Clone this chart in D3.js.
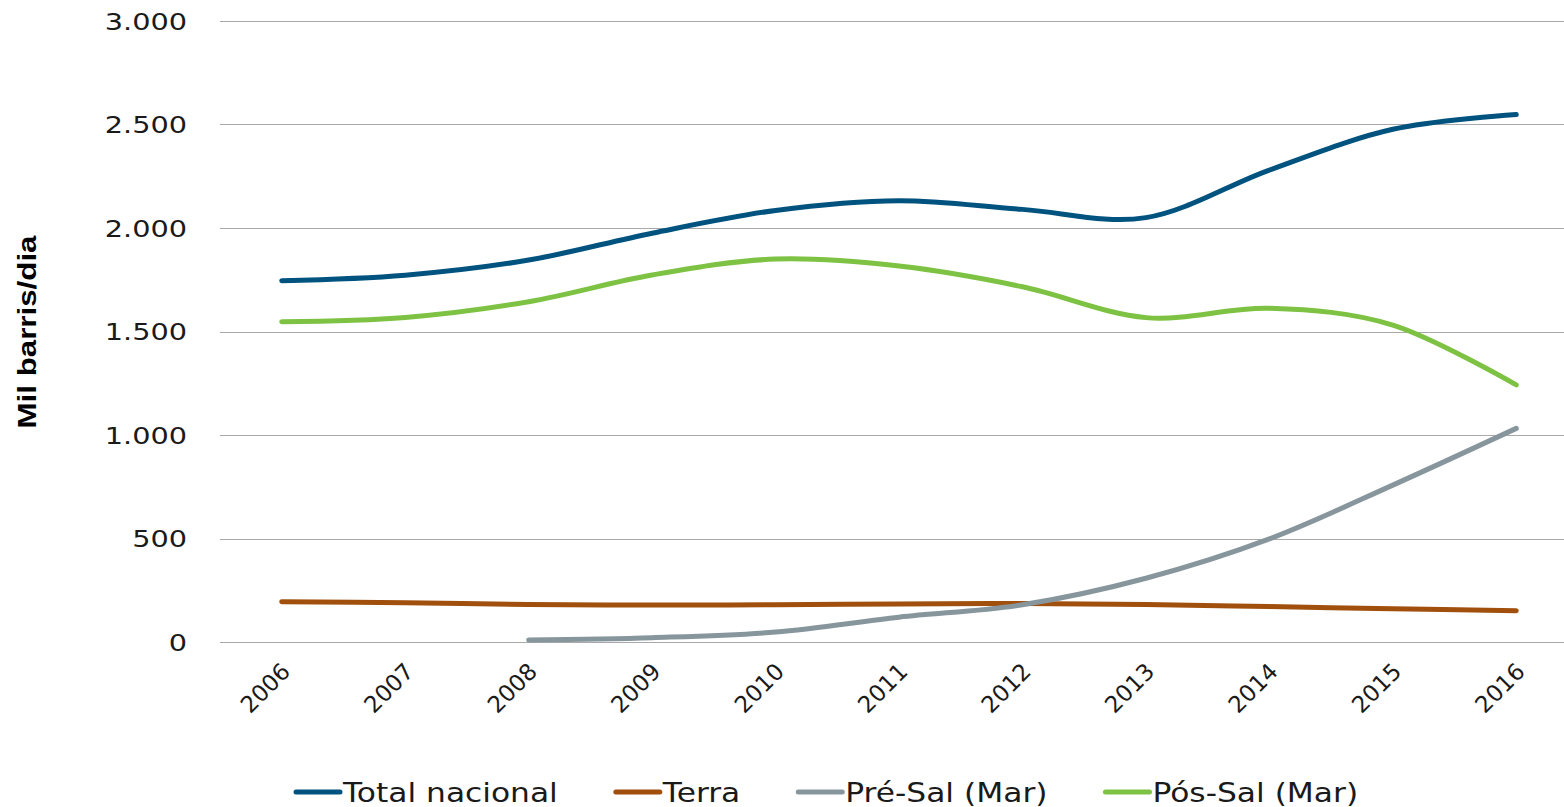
<!DOCTYPE html>
<html>
<head>
<meta charset="utf-8">
<script src="https://cdn.jsdelivr.net/npm/d3@7"></script>
<style>
  html, body { margin: 0; padding: 0; background: #ffffff; }
  svg { display: block; }
</style>
</head>
<body>
<svg id="chart" width="1564" height="807"></svg>
<script>
// Produção de petróleo no Brasil, mil barris/dia
const years = ["2006", "2007", "2008", "2009", "2010", "2011", "2012", "2013", "2014", "2015", "2016"];
const totalNacional = [1745, 1772, 1845, 1975, 2085, 2132, 2090, 2050, 2280, 2477, 2548];
const terra = [195, 190, 181, 179, 180, 184, 186, 181, 171, 161, 151];
const preSal = [null, null, 10, 21, 48, 120, 180, 308, 498, 758, 1032];
const posSal = [1547, 1568, 1644, 1773, 1850, 1816, 1716, 1567, 1612, 1531, 1242];
const yTicks = [0, 500, 1000, 1500, 2000, 2500, 3000];
const seriesNames = ["Total nacional", "Terra", "Pré-Sal (Mar)", "Pós-Sal (Mar)"];
const seriesColors = ["#00527f", "#a04f0c", "#87969c", "#7dc242"];

const series = [totalNacional, terra, preSal, posSal].map((values, i) => ({
  name: seriesNames[i],
  color: seriesColors[i],
  points: years.map((y, j) => ({ year: y, value: values[j] }))
}));

const svg = d3.select("#chart");
const plot = { left: 220, right: 1578, top: 21, bottom: 642 };

const x = d3.scaleBand().domain(years).range([plot.left, plot.right]).padding(0);
const y = d3.scaleLinear().domain([0, 3000]).range([plot.bottom, plot.top]);
const cx = d => x(d) + x.bandwidth() / 2;

const font = "'DejaVu Sans', Verdana, sans-serif";

// horizontal gridlines
svg.append("g")
  .selectAll("line")
  .data(yTicks)
  .join("line")
  .attr("x1", plot.left)
  .attr("x2", plot.right)
  .attr("y1", d => Math.round(y(d)) + 0.5)
  .attr("y2", d => Math.round(y(d)) + 0.5)
  .attr("stroke", "#a9a9a9")
  .attr("stroke-width", 1);

// value axis labels
const yAxis = d3.axisLeft(y).tickValues(yTicks)
  .tickFormat(d => d3.format(",")(d).replace(/,/g, "."))
  .tickSize(0);
const gy = svg.append("g").attr("transform", "translate(187,0)").call(yAxis);
gy.select(".domain").remove();
gy.selectAll(".tick text")
  .attr("x", 0)
  .attr("dy", "0.36em")
  .attr("transform", "scale(1.25,1)")
  .style("font-family", font)
  .style("font-size", "23px")
  .attr("fill", "#1a1a1a");

// category axis labels, rotated
const xAxis = d3.axisBottom(x).tickSize(0).tickSizeOuter(0);
const gx = svg.append("g").attr("transform", `translate(0,${plot.bottom})`).call(xAxis);
gx.select(".domain").remove();
gx.selectAll(".tick text")
  .attr("text-anchor", "end")
  .attr("x", 0).attr("y", 0).attr("dy", 0)
  .attr("transform", "translate(10,31) rotate(-45)")
  .style("font-family", font)
  .style("font-size", "23px")
  .attr("fill", "#1a1a1a");

// value axis title
svg.append("text")
  .attr("transform", "translate(36,332) rotate(-90)")
  .attr("text-anchor", "middle")
  .attr("textLength", 193)
  .attr("lengthAdjust", "spacingAndGlyphs")
  .style("font-family", "'Liberation Sans', Arial, sans-serif")
  .style("font-weight", "bold")
  .style("font-size", "26px")
  .attr("fill", "#000")
  .text("Mil barris/dia");

// smoothed series lines
const line = d3.line()
  .defined(d => d.value != null)
  .x(d => cx(d.year))
  .y(d => y(d.value))
  .curve(d3.curveCardinal.tension(0));

svg.append("g")
  .selectAll("path")
  .data(series)
  .join("path")
  .attr("d", d => line(d.points))
  .attr("fill", "none")
  .attr("stroke", d => d.color)
  .attr("stroke-width", 5)
  .attr("stroke-linecap", "round")
  .attr("stroke-linejoin", "round");

// legend
const legend = svg.append("g").attr("transform", "translate(296,792)");
let lx = 0;
series.forEach(s => {
  const item = legend.append("g").attr("transform", `translate(${lx},0)`);
  item.append("line")
    .attr("x1", 0).attr("x2", 44)
    .attr("y1", 0).attr("y2", 0)
    .attr("stroke", s.color)
    .attr("stroke-width", 5)
    .attr("stroke-linecap", "round");
  const t = item.append("text")
    .attr("x", 0)
    .attr("y", 0)
    .attr("dy", "0.36em")
    .attr("transform", "translate(47,0) scale(1.16,1)")
    .style("font-family", font)
    .style("font-size", "27px")
    .attr("fill", "#1a1a1a")
    .text(s.name);
  const w = t.node().getComputedTextLength() * 1.16;
  lx += 47 + w + 58;
});
</script>
</body>
</html>
